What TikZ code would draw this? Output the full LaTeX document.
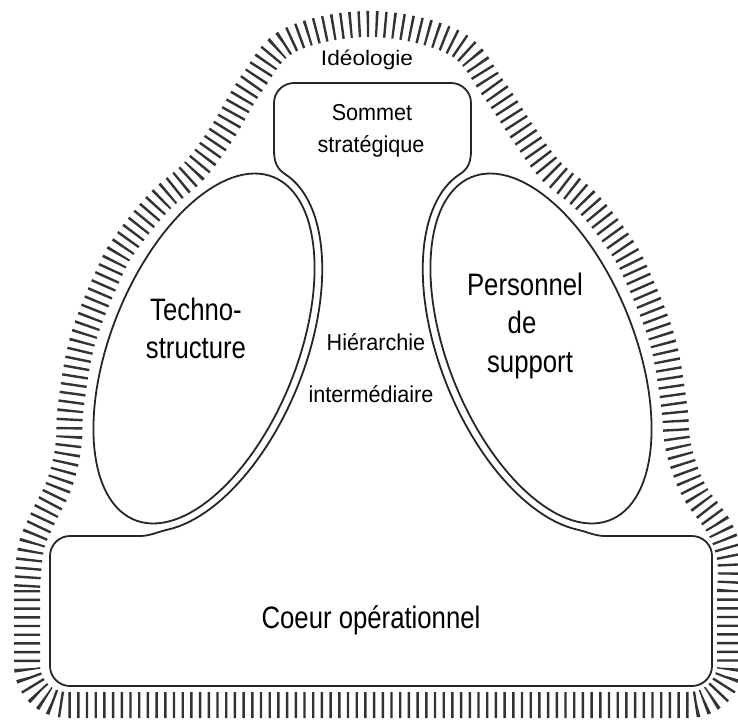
\documentclass[tikz,border=0pt]{standalone}
\usepackage{fontspec}
\setmainfont{Liberation Sans}
\begin{document}
\begin{tikzpicture}[x=1pt,y=-1pt,
  line/.style={line width=1.8pt, draw=black!85, line join=round},
  hatch/.style={draw=black!80, line width=26pt, line cap=butt, dash pattern=on 2.4pt off 6.3pt},
  big/.style={font=\fontsize{31}{37}\selectfont, inner sep=0pt, anchor=base},
  mid/.style={font=\fontsize{23}{28}\selectfont, inner sep=0pt, anchor=base},
  small/.style={font=\fontsize{21}{25}\selectfont, inner sep=0pt, anchor=base}]
\useasboundingbox (0,0) rectangle (738,720);
\clip (0,0) rectangle (738,720);
% ideology hatch band
\draw[hatch] (27,590) -- (27,665) .. controls (27,687) and (45,705) .. (67,705)
  -- (689,705) .. controls (711,705) and (730,687) .. (730,665)
  -- plot[smooth, tension=0.6] coordinates {(730,590) (730,558) (719,527) (697,496) (685,470) (677,440) (674,405) (662,339) (635,271) (617,240) (586,201) (551,171) (523,133) (493,88) (455,43) (372,24) (290,40) (252,83) (222,133) (194,171) (160,201) (128,240) (110,271) (83,339) (71,405) (69,440) (65,465) (57,490) (43,518) (31,548) (27,590)};
% strategic apex + middle line + operating core contour
\draw[line] (294,83) -- (451,83) .. controls (462,83) and (471,92) .. (471,103)
  -- (471,150) .. controls (471,163) and (467.7,169.1) .. (459.3,174.6)
  -- plot[domain=-6:-160, samples=60, variable=\t] ({541-72.3*cos(\t)+93.6*sin(\t)}, {348.5-178.9*cos(\t)-37.8*sin(\t)})
  .. controls (586.7,531.7) and (595,536) .. (605,536)
  -- (692,536) .. controls (703,536) and (712,545) .. (712,556)
  -- (712,666) .. controls (712,677) and (703,686) .. (692,686)
  -- (70,686) .. controls (59,686) and (50,677) .. (50,666)
  -- (50,556) .. controls (50,545) and (59,536) .. (70,536)
  -- (140,536) .. controls (150,536) and (158.3,531.7) .. (168.1,529.5)
  -- plot[domain=160:6, samples=60, variable=\t] ({204+72.3*cos(\t)+93.6*sin(\t)}, {348.5-178.9*cos(\t)+37.8*sin(\t)})
  .. controls (277.4,169.1) and (274,163) .. (274,150)
  -- (274,103) .. controls (274,92) and (283,83) .. (294,83) -- cycle;
% technostructure ellipse
\draw[line] plot[domain=0:360, samples=120, variable=\t] ({204+69.3*cos(\t)+86.2*sin(\t)}, {348.5-171.5*cos(\t)+34.8*sin(\t)}) -- cycle;
% support staff ellipse
\draw[line] plot[domain=0:360, samples=120, variable=\t] ({541-69.3*cos(\t)+86.2*sin(\t)}, {348.5-171.5*cos(\t)-34.8*sin(\t)}) -- cycle;
% labels
\node[small] (ideologie) at (367,65) {\scalebox{1.08}[1]{Idéologie}};
\node[mid] (sommet1) at (372,120) {\scalebox{0.94}[1]{Sommet}};
\node[mid] (sommet2) at (371,152) {\scalebox{0.94}[1]{stratégique}};
\node[big] (techno1) at (196,320) {\scalebox{0.83}[1]{Techno-}};
\node[big] (techno2) at (196,358) {\scalebox{0.83}[1]{structure}};
\node[big] (pers1) at (525,295) {\scalebox{0.83}[1]{Personnel}};
\node[big] (pers2) at (522,333) {\scalebox{0.83}[1]{de}};
\node[big] (pers3) at (530,372) {\scalebox{0.83}[1]{support}};
\node[mid] (hier1) at (376,350) {\scalebox{0.94}[1]{Hiérarchie}};
\node[mid] (hier2) at (371,402) {\scalebox{0.94}[1]{intermédiaire}};
\node[big] (coeur) at (371,628) {\scalebox{0.83}[1]{Coeur opérationnel}};
\end{tikzpicture}
\end{document}
